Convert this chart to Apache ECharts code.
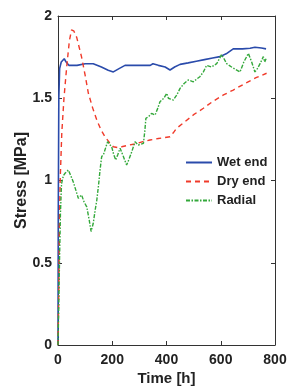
<!DOCTYPE html>
<html>
<head>
<meta charset="utf-8">
<script src="https://cdn.jsdelivr.net/npm/echarts@6/dist/echarts.min.js"></script>
<style>
  html, body { margin: 0; padding: 0; background: #fff; }
  #chart { width: 287px; height: 386px; }
</style>
</head>
<body>
<div id="chart"></div>
<script>
// values: [time h, stress MPa]
const wetEnd = [[0,0],[1,0.8],[3,1.5],[6,1.68],[12,1.72],[23,1.74],[30,1.72],[40,1.70],[70,1.70],[100,1.71],[130,1.71],[160,1.69],[185,1.67],[204,1.66],[225,1.68],[247,1.70],[280,1.70],[310,1.70],[340,1.70],[350,1.71],[370,1.70],[395,1.69],[413,1.672],[430,1.69],[450,1.706],[480,1.715],[510,1.725],[540,1.735],[570,1.745],[597,1.753],[620,1.77],[646,1.80],[680,1.80],[708,1.804],[726,1.81],[750,1.805],[767,1.80]];

const dryEnd = [[0,0],[3,0.35],[5,0.7],[8,1.0],[14,1.29],[22,1.5],[32,1.69],[42,1.85],[50,1.915],[58,1.91],[69,1.87],[87,1.75],[100,1.64],[112,1.53],[128,1.44],[143,1.368],[158,1.31],[173,1.266],[190,1.23],[204,1.205],[220,1.20],[235,1.205],[260,1.215],[278,1.22],[310,1.235],[339,1.246],[370,1.255],[413,1.266],[425,1.29],[437,1.317],[470,1.36],[500,1.40],[536,1.439],[570,1.48],[610,1.52],[646,1.55],[690,1.59],[730,1.625],[769,1.652]];

const radial = [[0,0],[3,0.25],[6,0.55],[9,0.8],[13,0.98],[20,1.03],[26,1.044],[38,1.064],[47,1.03],[56,0.993],[66,0.94],[75,0.892],[87,0.912],[96,0.87],[106,0.84],[115,0.76],[122,0.69],[130,0.74],[137,0.82],[143,0.88],[150,0.98],[155,1.064],[161,1.145],[168,1.16],[175,1.17],[183,1.236],[190,1.22],[198,1.205],[205,1.16],[213,1.125],[221,1.16],[229,1.196],[240,1.15],[253,1.094],[262,1.13],[272,1.175],[284,1.236],[296,1.216],[315,1.226],[320,1.30],[324,1.378],[335,1.39],[345,1.408],[358,1.398],[368,1.44],[376,1.479],[390,1.50],[401,1.53],[407,1.50],[415,1.495],[425,1.489],[438,1.52],[450,1.56],[465,1.59],[480,1.611],[499,1.60],[510,1.615],[523,1.631],[536,1.66],[548,1.70],[566,1.69],[585,1.71],[595,1.74],[603,1.766],[612,1.74],[622,1.71],[640,1.69],[655,1.675],[671,1.66],[685,1.72],[702,1.773],[714,1.72],[726,1.66],[735,1.68],[745,1.71],[757,1.753],[762,1.72],[767,1.74]];

const seriesNames = ["Wet end", "Dry end", "Radial"];
const xTicks = [0, 200, 400, 600, 800];
const yTicks = [0, 0.5, 1, 1.5, 2];

const font = "Liberation Sans, Arial, sans-serif";
const axisColor = "#333";

const chart = echarts.init(document.getElementById("chart"));

const boxAxis = (extra) => Object.assign({
  axisLine: { show: true, onZero: false, lineStyle: { color: axisColor, width: 1 } },
  axisTick: { show: true, inside: true, length: 4, lineStyle: { color: axisColor } },
  splitLine: { show: false },
}, extra);

chart.setOption({
  animation: false,
  // fixed plot box, don't let v6 shrink it to fit labels
  grid: { left: 58, right: 12, top: 16, bottom: 41, containLabel: false, outerBoundsMode: "none" },
  legend: {
    orient: "vertical",
    left: 185,
    top: 156,
    padding: 0,
    itemWidth: 26,
    itemHeight: 12,
    itemGap: 6,
    data: seriesNames,
    // hide the circle marker the line legend adds, keep only the line
    itemStyle: { color: "transparent", borderWidth: 0, opacity: 0 },
    textStyle: { fontFamily: font, fontWeight: "bold", fontSize: 13, color: "#222" },
  },
  xAxis: [
    boxAxis({
      type: "value", min: xTicks[0], max: xTicks[xTicks.length - 1], interval: 200,
      name: "Time [h]", nameLocation: "middle", nameGap: 26, nameMoveOverlap: false,
      nameTextStyle: { fontFamily: font, fontWeight: "bold", fontSize: 15, color: "#222" },
      axisLabel: { fontFamily: font, fontWeight: "bold", fontSize: 14, color: "#222", margin: 8 },
    }),
    boxAxis({
      type: "value", position: "top", min: xTicks[0], max: xTicks[xTicks.length - 1], interval: 200,
      axisLabel: { show: false },
    }),
  ],
  yAxis: [
    boxAxis({
      type: "value", min: yTicks[0], max: yTicks[yTicks.length - 1], interval: 0.5,
      name: "Stress [MPa]", nameLocation: "middle", nameGap: 28, nameMoveOverlap: false,
      nameTextStyle: { fontFamily: font, fontWeight: "bold", fontSize: 16, color: "#222" },
      axisLabel: { fontFamily: font, fontWeight: "bold", fontSize: 14, color: "#222", margin: 6 },
    }),
    boxAxis({
      type: "value", position: "right", min: yTicks[0], max: yTicks[yTicks.length - 1], interval: 0.5,
      axisLabel: { show: false },
    }),
  ],
  series: [
    {
      name: seriesNames[0], type: "line", data: wetEnd, showSymbol: false, symbol: "none",
      lineStyle: { color: "#2a4bab", width: 1.6, type: "solid" }, itemStyle: { color: "#2a4bab" },
    },
    {
      name: seriesNames[1], type: "line", data: dryEnd, showSymbol: false, symbol: "none",
      lineStyle: { color: "#f03a2a", width: 1.4, type: [5, 4] }, itemStyle: { color: "#f03a2a" },
    },
    {
      name: seriesNames[2], type: "line", data: radial, showSymbol: false, symbol: "none",
      lineStyle: { color: "#33a83a", width: 1.4, type: [4, 1.5, 1.5, 1.5] }, itemStyle: { color: "#33a83a" },
    },
  ],
});
</script>
</body>
</html>
